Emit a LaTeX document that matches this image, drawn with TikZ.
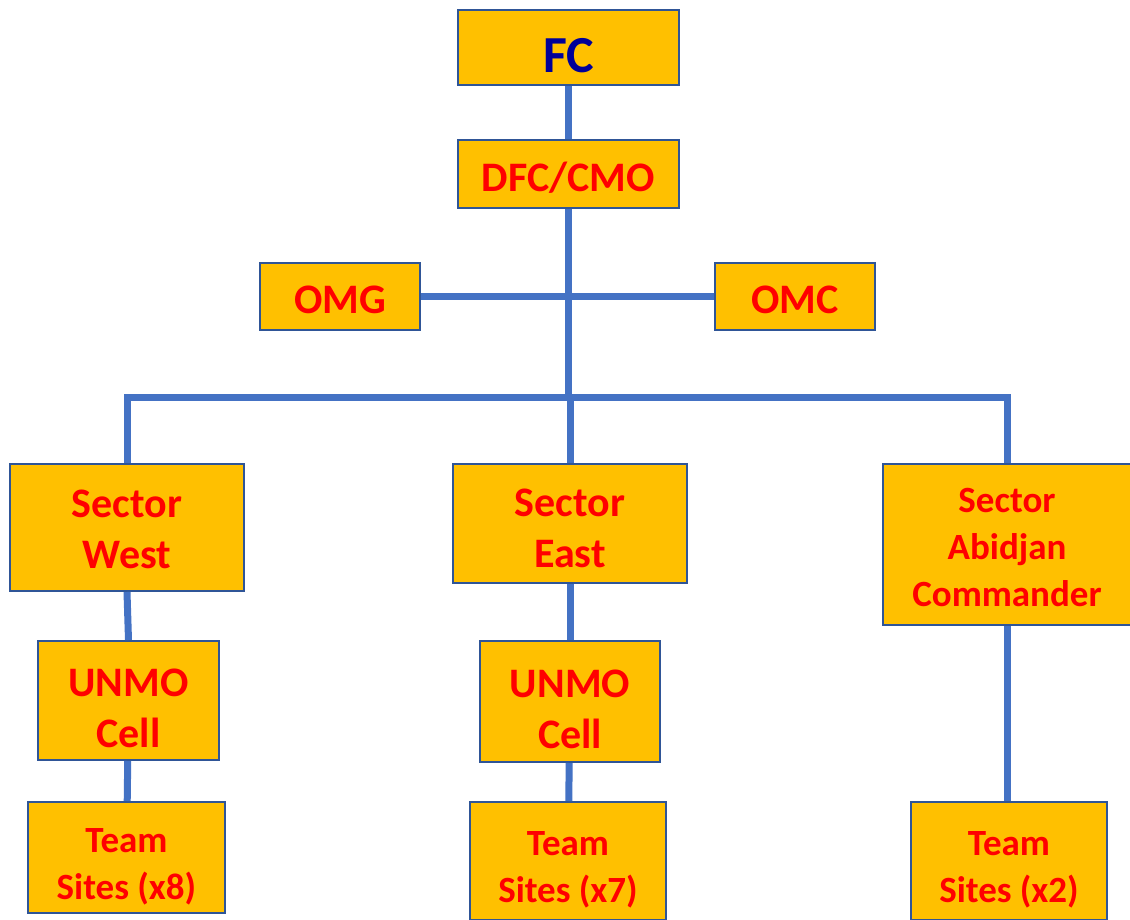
\documentclass[tikz,border=0pt]{standalone}
\usepackage{fontspec}
\setmainfont{Carlito}
\definecolor{boxfill}{HTML}{FFC000}
\definecolor{boxline}{HTML}{2F5597}
\definecolor{linkblue}{HTML}{4472C4}
\definecolor{fcblue}{HTML}{000099}
% text block lowered a little inside its box
\newcommand\lowtxt[2][5pt]{\raisebox{-#1}[\height][\depth]{\begin{tabular}{@{}c@{}}#2\end{tabular}}}
\begin{document}
\begin{tikzpicture}[x=1pt,y=-1pt,
  box/.style={draw=boxline,line width=2pt,fill=boxfill,text=red,
    inner sep=0pt,font=\bfseries\fontsize{42}{51}\selectfont},
  small/.style={font=\bfseries\fontsize{37}{47}\selectfont},
  link/.style={draw=linkblue,line width=7pt}]
  \useasboundingbox (0,0) rectangle (1130,920);
  \node[box,text=fcblue,font=\bfseries\fontsize{52}{60}\selectfont,minimum width=221pt,minimum height=75pt] (fc) at (568.5,47.5) {\lowtxt[13pt]{FC}};
  \node[box,minimum width=221pt,minimum height=68pt] (dfc) at (568.5,174) {\lowtxt[7pt]{DFC/CMO}};
  \node[box,minimum width=160pt,minimum height=67pt] (omg) at (340,296.5) {\lowtxt[7pt]{OMG}};
  \node[box,minimum width=160pt,minimum height=67pt] (omc) at (795,296.5) {\lowtxt[7pt]{OMC}};
  \node[box,minimum width=234pt,minimum height=127pt] (sw) at (127,527.5) {\lowtxt[5pt]{Sector\\West}};
  \node[box,minimum width=234pt,minimum height=119pt] (se) at (570,523.5) {\lowtxt[8pt]{Sector\\East}};
  \node[box,small,minimum width=248pt,minimum height=161pt] (sa) at (1007,544.5) {\lowtxt[6pt]{Sector\\Abidjan\\Commander}};
  \node[box,minimum width=181pt,minimum height=119pt] (uw) at (128.5,700.5) {\lowtxt[11pt]{UNMO\\Cell}};
  \node[box,minimum width=180pt,minimum height=121pt] (ue) at (570,701.5) {\lowtxt[11pt]{UNMO\\Cell}};
  \node[box,small,minimum width=197pt,minimum height=111pt] (tw) at (126.5,857.5) {\lowtxt[9pt]{Team\\Sites (x8)}};
  \node[box,small,minimum width=196pt,minimum height=118pt] (te) at (568,861) {\lowtxt[9pt]{Team\\Sites (x7)}};
  \node[box,small,minimum width=196pt,minimum height=118pt] (ta) at (1009,861) {\lowtxt[9pt]{Team\\Sites (x2)}};
  \coordinate (bus) at (568,397);
  \draw[link] (fc) -- (dfc);
  \draw[link] (dfc.south) -- (dfc.south |- bus);
  \draw[link] (omg) -- (omc);
  \draw[link] (sw.north) -- (sw.north |- bus) -- (sa.north |- bus) -- (sa.north);
  \draw[link] (se.north) -- (se.north |- bus);
  \draw[link] (sw.south) -- (uw.north);
  \draw[link] (uw) -- (tw);
  \draw[link] (se) -- (ue);
  \draw[link] (ue) -- (te);
  \draw[link] (sa.south) -- (sa.south |- ta.north);
\end{tikzpicture}
\end{document}
